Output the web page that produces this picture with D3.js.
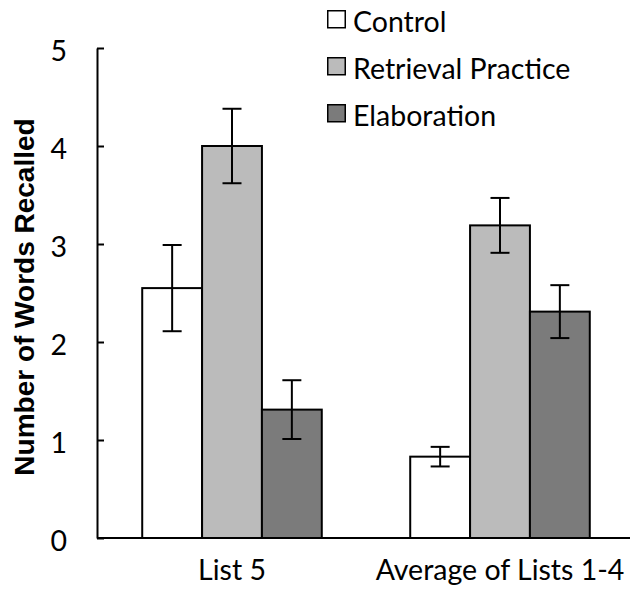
<!DOCTYPE html>
<html>
<head>
<meta charset="utf-8">
<script src="https://cdn.jsdelivr.net/npm/d3@7"></script>
<style>
  html, body { margin: 0; padding: 0; background: #fff; }
</style>
</head>
<body>
<div id="chart"></div>
<script>
const groups = ["List 5", "Average of Lists 1-4"];
const conditions = ["Control", "Retrieval Practice", "Elaboration"];
const fills = ["#ffffff", "#bbbbbb", "#7b7b7b"];
// means and error bar half-widths, one value per condition, per group
const meansList5 = [2.55, 4.00, 1.31];
const errList5 = [0.44, 0.38, 0.30];
const meansAvg = [0.83, 3.19, 2.31];
const errAvg = [0.10, 0.28, 0.27];
const yTicks = [0, 1, 2, 3, 4, 5];

const width = 630;
const height = 596;
const marginLeft = 97;
const marginTop = 48;
const marginBottom = 58;
const labelFont = "Lato, 'Open Sans', sans-serif";
const labelSize = 28.5;

const rows = [];
groups.forEach((g, gi) => {
  const m = gi === 0 ? meansList5 : meansAvg;
  const e = gi === 0 ? errList5 : errAvg;
  conditions.forEach((c, ci) => rows.push({group: g, cond: c, value: m[ci], err: e[ci]}));
});

const x0 = d3.scaleBand()
  .domain(groups)
  .range([marginLeft + 1, 634])
  .paddingInner(0.33)
  .paddingOuter(0.165);

const x1 = d3.scaleBand()
  .domain(conditions)
  .range([0, x0.bandwidth()]);

const y = d3.scaleLinear()
  .domain([0, 5])
  .range([height - marginBottom, marginTop]);

const color = d3.scaleOrdinal().domain(conditions).range(fills);

const svg = d3.select("#chart").append("svg")
  .attr("width", width)
  .attr("height", height)
  .attr("viewBox", [0, 0, width, height]);

// bars
svg.append("g")
  .selectAll("rect")
  .data(rows)
  .join("rect")
    .attr("x", d => x0(d.group) + x1(d.cond))
    .attr("y", d => y(d.value))
    .attr("width", x1.bandwidth())
    .attr("height", d => y(0) - y(d.value))
    .attr("fill", d => color(d.cond))
    .attr("stroke", "#000")
    .attr("stroke-width", 2);

// error bars
const capW = 19;
const eb = svg.append("g")
  .attr("stroke", "#000")
  .attr("stroke-width", 2)
  .selectAll("g")
  .data(rows)
  .join("g")
    .attr("transform", d => `translate(${x0(d.group) + x1(d.cond) + x1.bandwidth() / 2},0)`);
eb.append("line")
  .attr("y1", d => y(d.value + d.err))
  .attr("y2", d => y(d.value - d.err));
eb.append("line")
  .attr("x1", -capW / 2).attr("x2", capW / 2)
  .attr("y1", d => y(d.value + d.err)).attr("y2", d => y(d.value + d.err));
eb.append("line")
  .attr("x1", -capW / 2).attr("x2", capW / 2)
  .attr("y1", d => y(d.value - d.err)).attr("y2", d => y(d.value - d.err));

// x axis: baseline and group labels
svg.append("g")
  .attr("transform", `translate(0,${y(0)})`)
  .call(d3.axisBottom(x0).tickSize(0).tickSizeOuter(0))
  .call(g => g.select(".domain").attr("stroke-width", 2).attr("d", `M${marginLeft},0H${width}`))
  .call(g => g.selectAll(".tick text")
    .attr("dy", null)
    .attr("y", 42)
    .attr("fill", "#000")
    .attr("font-family", labelFont)
    .attr("font-size", labelSize));

// y axis with inward ticks
svg.append("g")
  .attr("transform", `translate(${marginLeft},0)`)
  .call(d3.axisLeft(y).tickValues(yTicks).tickFormat(d3.format("d")).tickSize(-7).tickSizeOuter(0).tickPadding(30))
  .call(g => g.select(".domain").attr("stroke-width", 2))
  .call(g => g.selectAll(".tick line").attr("stroke-width", 2))
  .call(g => g.selectAll(".tick text")
    .attr("dy", "0.43em")
    .attr("fill", "#000")
    .attr("font-family", labelFont)
    .attr("font-size", labelSize));

// y axis title
svg.append("text")
  .attr("transform", `translate(34,297) rotate(-90)`)
  .attr("text-anchor", "middle")
  .attr("font-family", "'Liberation Sans', Arial, sans-serif")
  .attr("font-weight", "bold")
  .attr("font-size", 28)
  .text("Number of Words Recalled");

// legend
const legend = svg.append("g")
  .selectAll("g")
  .data(conditions)
  .join("g")
    .attr("transform", (d, i) => `translate(327,${10 + i * 47})`);
legend.append("rect")
  .attr("x", 0.75).attr("y", 0.75)
  .attr("width", 17.5).attr("height", 17)
  .attr("fill", d => color(d))
  .attr("stroke", "#000")
  .attr("stroke-width", 1.5);
legend.append("text")
  .attr("x", 26)
  .attr("y", 22)
  .attr("font-family", labelFont)
  .attr("font-size", labelSize)
  .text(d => d);
</script>
</body>
</html>
